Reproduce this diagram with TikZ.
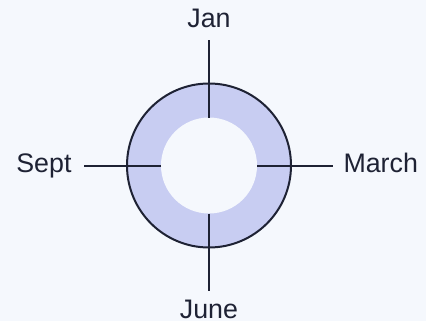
\documentclass[tikz,border=0pt]{standalone}
\usepackage{fontspec}
\setmainfont{Liberation Sans}
\definecolor{bgpale}{RGB}{245,248,253}
\definecolor{ringfill}{RGB}{200,205,242}
\definecolor{inkdark}{RGB}{30,34,52}
\begin{document}
\begin{tikzpicture}[x=1pt, y=-1pt, line width=2pt,
  month/.style={font=\fontsize{26.8}{30}\selectfont, text=inkdark, inner sep=0pt}]
  % Background
  \fill[bgpale] (0,0) rectangle (426,321);
  \useasboundingbox (0,0) rectangle (426,321);

  % Ring and hole
  \node[circle, draw=inkdark, fill=ringfill, minimum size=164pt, inner sep=0pt] (ring) at (209,165.5) {};
  \node[circle, fill=bgpale, minimum size=96pt, inner sep=0pt, outer sep=0pt] (hole) at (209,165.5) {};

  % Month labels
  \node[month, anchor=base] (jan) at (209,28) {Jan};
  \node[month, anchor=base east] (sept) at (72.5,172) {Sept};
  \node[month, anchor=base west] (march) at (342.5,172) {March};
  \node[month, anchor=base] (june) at (209,318.5) {June};

  % Tick ends
  \coordinate (janTip) at (209,40.5);
  \coordinate (septTip) at (84,165.5);
  \coordinate (marchTip) at (333,165.5);
  \coordinate (juneTip) at (209,290.5);

  % Ticks
  \draw[inkdark] (hole.north) -- (janTip);
  \draw[inkdark] (hole.west) -- (septTip);
  \draw[inkdark] (hole.east) -- (marchTip);
  \draw[inkdark] (hole.south) -- (juneTip);
\end{tikzpicture}
\end{document}
